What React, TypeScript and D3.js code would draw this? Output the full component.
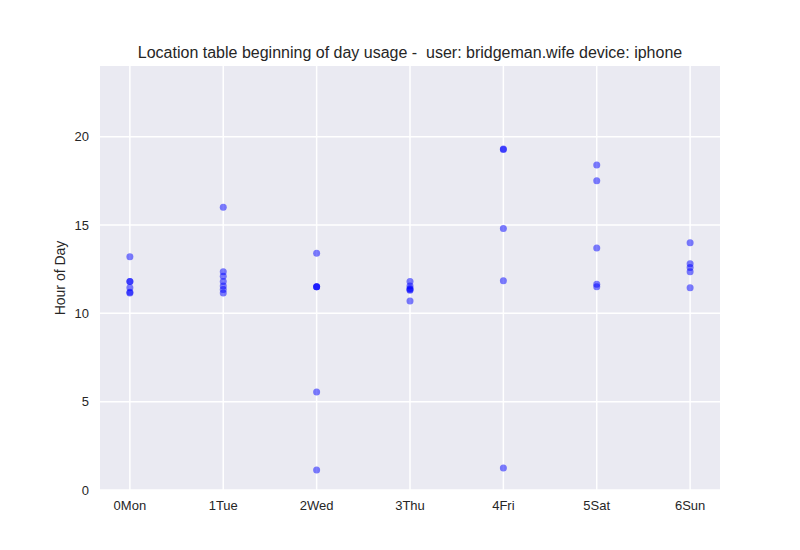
import React from 'react';
import * as d3 from 'd3';

const dayLabels = ['0Mon', '1Tue', '2Wed', '3Thu', '4Fri', '5Sat', '6Sun'];
const dayIndex = [0, 0, 0, 0, 0, 0, 1, 1, 1, 1, 1, 1, 1, 2, 2, 2, 2, 2, 2, 3, 3, 3, 3, 3, 3, 4, 4, 4, 4, 4, 5, 5, 5, 5, 5, 6, 6, 6, 6, 6];
const hours = [13.2, 11.8, 11.8, 11.45, 11.15, 11.2,
  16.0, 12.35, 12.1, 11.8, 11.55, 11.35, 11.15,
  13.4, 11.5, 11.5, 11.5, 5.55, 1.13,
  11.8, 11.55, 11.4, 11.35, 11.3, 10.7,
  19.27, 19.3, 14.8, 11.85, 1.25,
  18.4, 17.5, 13.7, 11.65, 11.5,
  14.0, 12.8, 12.6, 12.35, 11.45];
const yTicks = [0, 5, 10, 15, 20];

const W = 800, H = 550;
const L = 100, R = 720, T = 66, B = 490;
const font = '"Liberation Sans", Arial, sans-serif';

export default function App() {
  const x = d3.scaleLinear().domain([-0.32, 6.32]).range([L, R]);
  const y = d3.scaleLinear().domain([0, 24]).range([B, T]);
  return (
    <svg width={W} height={H} style={{ position: 'absolute', left: 0, top: 0, background: '#fff' }} fontFamily={font}>
      <rect x={L} y={T} width={R - L} height={B - T} fill="#eaeaf2" />
      {yTicks.map(t => (
        <g key={t}>
          <line x1={L} x2={R} y1={y(t)} y2={y(t)} stroke="#fff" strokeWidth={1.5} />
          <text x={L - 11} y={y(t)} dy="0.35em" textAnchor="end" fontSize={13} fill="#262626">{t}</text>
        </g>
      ))}
      {dayLabels.map((d, i) => (
        <g key={d}>
          <line x1={x(i)} x2={x(i)} y1={T} y2={B} stroke="#fff" strokeWidth={1.5} />
          <text x={x(i)} y={B + 20} textAnchor="middle" fontSize={13} fill="#262626">{d}</text>
        </g>
      ))}
      {hours.map((h, i) => (
        <circle key={i} cx={x(dayIndex[i])} cy={y(h)} r={3.5} fill="blue" fillOpacity={0.5} />
      ))}
      <text x={(L + R) / 2} y={T - 8} textAnchor="middle" fontSize={16} fill="#262626" style={{ whiteSpace: 'pre' }}>{'Location table beginning of day usage -  user: bridgeman.wife device: iphone'}</text>
      <text transform={`translate(65,${(T + B) / 2}) rotate(-90)`} textAnchor="middle" fontSize={14} fill="#262626">Hour of Day</text>
    </svg>
  );
}
